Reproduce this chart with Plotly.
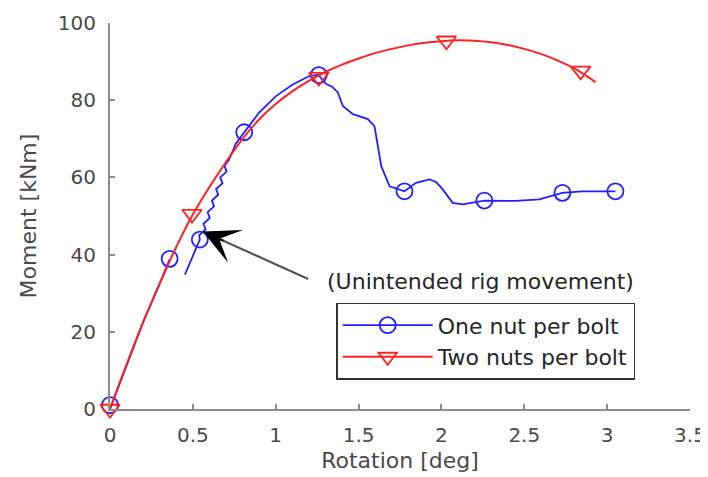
import plotly.graph_objects as go

# ---- data ----
blue_x = [0, 0.1, 0.2, 0.3, 0.36, None,
          0.452, 0.50, 0.542, 0.538, 0.577, 0.564, 0.602, 0.589, 0.628, 0.615, 0.653,
          0.640, 0.679, 0.665, 0.704, 0.691, 0.717,
          0.76, 0.81, 0.90, 1.00, 1.10, 1.20, 1.255,
          1.305, 1.34, 1.375, 1.405, 1.466, 1.556, 1.596, 1.616, 1.637, 1.687, 1.777,
          1.847, 1.928, 1.968, 2.008, 2.068, 2.128, 2.259, 2.45, 2.59, 2.73, 2.85, 3.05]
blue_y = [0, 11.5, 22.5, 32.5, 38.8, None,
          34.8, 39.5, 43.9, 45.0, 46.5, 48.0, 49.5, 51.0, 52.5, 54.0, 55.5,
          57.0, 58.5, 60.0, 61.5, 63.0, 64.5,
          68.8, 71.7, 76.8, 81.0, 84.0, 86.2, 86.6,
          84.2, 83.5, 82.0, 78.5, 76.4, 75.1, 73.3, 68.1, 62.9, 57.7, 56.4,
          58.6, 59.5, 58.8, 56.9, 53.4, 53.0, 54.0, 53.9, 54.3, 56.0, 56.4, 56.4]
blue_mx = [0, 0.36, 0.542, 0.81, 1.26, 1.777, 2.259, 2.73, 3.05]
blue_my = [1, 38.9, 43.9, 71.7, 86.5, 56.4, 54.0, 56.0, 56.4]

red_x = [0, 0.1, 0.2, 0.3, 0.4, 0.5, 0.6, 0.7, 0.8, 0.9, 1.0, 1.1, 1.2, 1.3, 1.4,
         1.5, 1.6, 1.7, 1.8, 1.9, 2.0, 2.1, 2.2, 2.3, 2.4, 2.5, 2.6, 2.7, 2.8, 2.93]
red_y = [0, 11.5, 22.5, 32.5, 42.0, 50.4, 57.5, 64.0, 70.0, 75.0, 79.0, 82.3, 85.0, 87.3, 89.2,
         90.8, 92.2, 93.3, 94.2, 94.9, 95.3, 95.5, 95.4, 95.0, 94.3, 93.3, 92.0, 90.3, 88.3, 84.7]
red_mx = [0, 0.495, 1.26, 2.03, 2.84]
red_my = [0, 50.5, 86.0, 95.4, 87.6]

series_names = ["One nut per bolt", "Two nuts per bolt"]
x_ticks = [0, 0.5, 1, 1.5, 2, 2.5, 3, 3.5]
y_ticks = [0, 20, 40, 60, 80, 100]
annot_text = "(Unintended rig movement)"
arrow_tip = (0.56, 46.0)
arrow_tail = (1.205, 33.5)
annot_pos = (1.30, 33.0)

BLUE = "#1f1fff"
RED = "#ff2020"
FONT = "DejaVu Sans"

fig = go.Figure()
fig.add_trace(go.Scatter(x=blue_x, y=blue_y, mode="lines", line=dict(color=BLUE, width=1.8),
                         showlegend=False, cliponaxis=False, hoverinfo="skip"))
fig.add_trace(go.Scatter(x=blue_mx, y=blue_my, mode="markers",
                         marker=dict(symbol="circle-open", size=16, color=BLUE, line=dict(width=1.8)),
                         showlegend=False, cliponaxis=False))
fig.add_trace(go.Scatter(x=red_x, y=red_y, mode="lines", line=dict(color=RED, width=2, shape="spline"),
                         showlegend=False, cliponaxis=False, hoverinfo="skip"))
fig.add_trace(go.Scatter(x=red_mx, y=red_my, mode="markers",
                         marker=dict(symbol="triangle-down-open", size=17, color=RED, line=dict(width=1.8)),
                         showlegend=False, cliponaxis=False))
# legend entries
fig.add_trace(go.Scatter(x=[None], y=[None], mode="lines+markers", name=series_names[0],
                         line=dict(color=BLUE, width=1.8),
                         marker=dict(symbol="circle-open", size=16, color=BLUE, line=dict(width=1.8))))
fig.add_trace(go.Scatter(x=[None], y=[None], mode="lines+markers", name=series_names[1],
                         line=dict(color=RED, width=1.8),
                         marker=dict(symbol="triangle-down-open", size=17, color=RED, line=dict(width=1.8))))

# arrow shaft (grey) and head (black)
fig.add_annotation(x=arrow_tip[0], y=arrow_tip[1], ax=arrow_tail[0], ay=arrow_tail[1],
                   xref="x", yref="y", axref="x", ayref="y", text="", showarrow=True,
                   arrowhead=0, arrowwidth=2.2, arrowcolor="#555555")
fig.add_annotation(x=arrow_tip[0], y=arrow_tip[1], ax=22, ay=10, xref="x", yref="y",
                   text="", showarrow=True, arrowhead=3, arrowsize=3.0, arrowwidth=2,
                   arrowcolor="#000000")
fig.add_annotation(x=annot_pos[0], y=annot_pos[1], xref="x", yref="y", text=annot_text,
                   showarrow=False, xanchor="left", yanchor="middle",
                   font=dict(family=FONT, size=22, color="#262626"))

axis_common = dict(showline=True, linecolor="#8c8c8c", linewidth=2, ticks="inside", ticklen=5,
                   tickcolor="#8c8c8c", tickwidth=1.5, showgrid=False, zeroline=False,
                   tickfont=dict(family=FONT, size=20, color="#4a4a4a"), mirror=False,
                   automargin=False)
fig.update_xaxes(range=[0, 3.5], tickvals=x_ticks, ticklabelstandoff=7,
                 title=dict(text="Rotation [deg]", font=dict(family=FONT, size=22, color="#4a4a4a"),
                            standoff=7), **axis_common)
fig.update_yaxes(range=[0, 100], tickvals=y_ticks, ticklabelstandoff=8,
                 title=dict(text="Moment [kNm]", font=dict(family=FONT, size=22, color="#4a4a4a"),
                            standoff=15), **axis_common)

# page body has an 8px default margin, so the figure is 8px smaller and margins shifted
fig.update_layout(
    width=700, height=469, margin=dict(l=102, r=18, t=15, b=68),
    plot_bgcolor="white", paper_bgcolor="white",
    legend=dict(x=0.39, y=0.275, xanchor="left", yanchor="top", bgcolor="white",
                bordercolor="#333333", borderwidth=1.5, itemwidth=90,
                font=dict(family=FONT, size=22, color="#262626"), tracegroupgap=0),
)
fig.write_html("out.html")
